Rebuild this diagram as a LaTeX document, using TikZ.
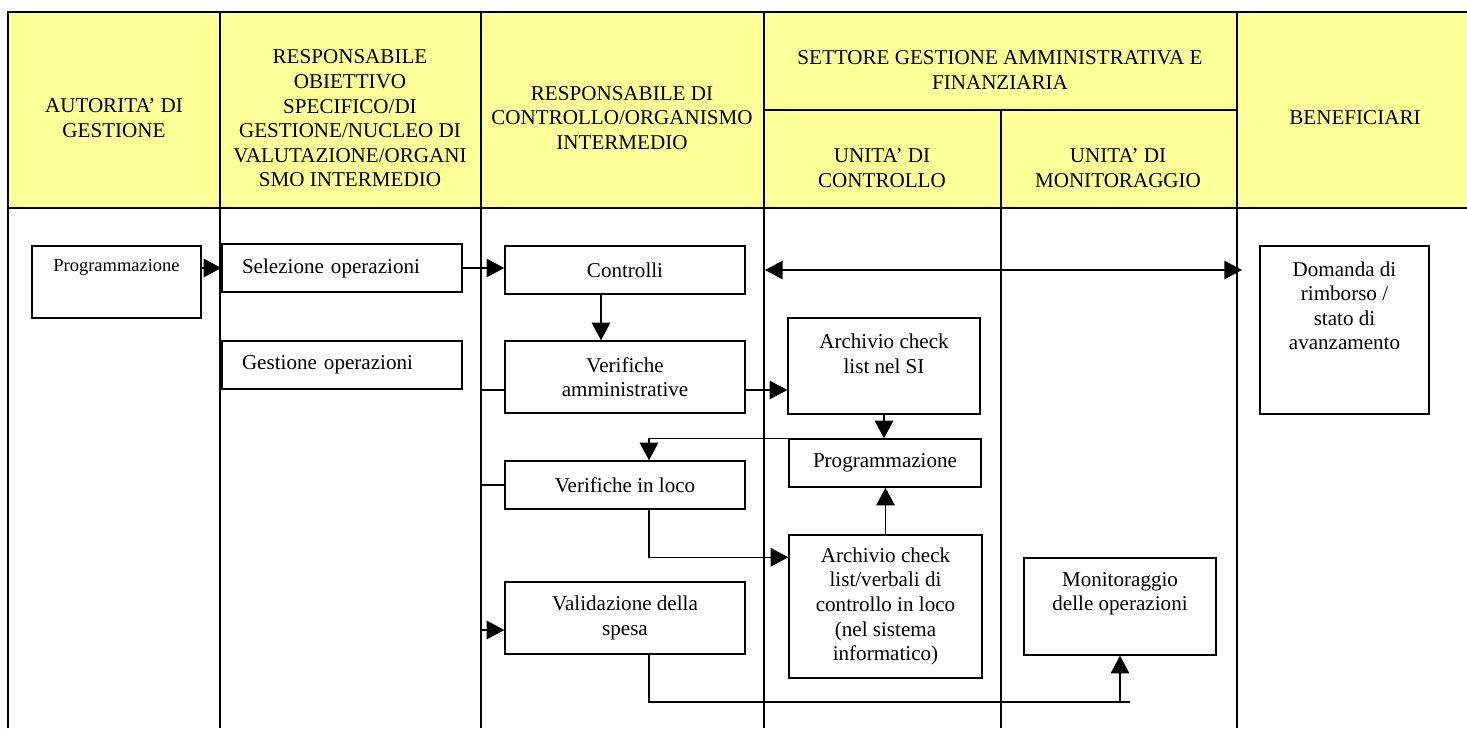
\documentclass[tikz,border=0pt]{standalone}
\usepackage{fontspec}
\setmainfont{Liberation Serif}
\usetikzlibrary{arrows.meta}
\newlength{\upx}
\setlength{\upx}{0.02cm}
\definecolor{headyellow}{RGB}{255,255,153}

\begin{document}
\begin{tikzpicture}[
        x=0.02cm, y=-0.02cm,
        frame/.style={draw,line width=1.2pt},
        head/.style={align=center,font=\fontsize{12}{14}\selectfont},
        stepbox/.style={draw,line width=0.8pt,inner sep=0pt,align=center,
            font=\fontsize{12}{14}\selectfont},
        arrow/.style={-{Triangle[length=10pt,width=10.5pt]},line width=0.8pt},
        twoway/.style={{Triangle[length=10pt,width=10.5pt]}-{Triangle[length=10pt,width=10.5pt]},line width=0.8pt},
        link/.style={line width=0.8pt},
    ]
        \useasboundingbox (0,0) rectangle (1467,728);

        % table
        \fill[headyellow] (8,12) rectangle (1467,208);
        \draw[frame] (8,728) -- (8,12) -- (1467,12);
        \draw[frame] (8,208) -- (1467,208);
        \draw[frame] (764,110) -- (1237,110);
        \foreach \x in {220,481,764,1237}
            \draw[frame] (\x,12) -- (\x,728);
        \draw[frame] (1001,110) -- (1001,728);

        % header
        \node (hag)  [head] at (114,118)   {AUTORITA’ DI\\GESTIONE};
        \node (hro)  [head] at (350,118.5)
            {RESPONSABILE\\OBIETTIVO\\SPECIFICO/DI\\GESTIONE/NUCLEO DI\\VALUTAZIONE/ORGANI\\SMO INTERMEDIO};
        \node (hrc)  [head] at (622,118)
            {RESPONSABILE DI\\CONTROLLO/ORGANISMO\\INTERMEDIO};
        \node (hset) [head] at (1000,70)
            {SETTORE GESTIONE AMMINISTRATIVA E\\FINANZIARIA};
        \node (huc)  [head] at (882,168)   {UNITA’ DI\\CONTROLLO};
        \node (hum)  [head] at (1118,168)  {UNITA’ DI\\MONITORAGGIO};
        \node (hben) [head] at (1355,118)  {BENEFICIARI};

        % boxes
        \node (prog1) [stepbox,minimum width=169\upx,minimum height=72\upx,
            label={[font=\fontsize{10.5}{12}\selectfont,anchor=center,yshift=-22\upx]north:Programmazione}]
            at (116.5,282) {};
        \node (sel) [stepbox,text width=200\upx,align=left,minimum width=240\upx,minimum height=48\upx]
            at (342,268) {Selezione operazioni};
        \node (ges) [stepbox,text width=200\upx,align=left,minimum width=240\upx,minimum height=48\upx]
            at (342,365) {Gestione operazioni};
        \node (ctrl) [stepbox,minimum width=240\upx,minimum height=48\upx]
            at (625,270) {Controlli};
        \node (veram) [stepbox,minimum width=240\upx,minimum height=72\upx]
            at (625,377) {Verifiche\\amministrative};
        \node (verloco) [stepbox,minimum width=240\upx,minimum height=48\upx]
            at (625,485) {Verifiche in loco};
        \node (valid) [stepbox,minimum width=240\upx,minimum height=72\upx]
            at (625,618) {Validazione della\\spesa};
        \node (arsi) [stepbox,minimum width=192\upx,minimum height=96\upx,
            label={[head,anchor=center,yshift=-36.5\upx]north:{Archivio check\\list nel SI}}]
            at (884,366) {};
        \node (prog2) [stepbox,minimum width=192\upx,minimum height=48\upx]
            at (885,463) {Programmazione};
        \node (arver) [stepbox,minimum width=193\upx,minimum height=143\upx]
            at (885.5,606.5)
            {Archivio check\\list/verbali di\\controllo in loco\\(nel sistema\\informatico)};
        \node (mon) [stepbox,minimum width=192\upx,minimum height=97\upx,
            label={[head,anchor=center,yshift=-36.5\upx]north:{Monitoraggio\\delle operazioni}}]
            at (1120,606.5) {};
        \node (dom) [stepbox,minimum width=169\upx,minimum height=168\upx,
            label={[head,anchor=center,yshift=-60.5\upx]north:{Domanda di\\rimborso /\\stato di\\avanzamento}}]
            at (1344.5,330) {};

        \coordinate (lane3) at (481,208);
        \coordinate (twoleft) at (765,270);
        \coordinate (tworight) at (1242,270);
        \coordinate (monjoin) at (1130,702);

        % arrows
        \draw[arrow] (prog1.east |- sel.west) -- (sel.west);
        \draw[arrow] (sel.east) -- (sel.east -| ctrl.west);
        \draw[arrow] ([xshift=-24\upx]ctrl.south) -- ([xshift=-24\upx]veram.north);
        \draw[twoway] (twoleft) -- (tworight);

        \draw[link] ([yshift=-13\upx]veram.west -| lane3) -- ([yshift=-13\upx]veram.west);
        \draw[arrow] ([yshift=-13\upx]veram.east) -- ([yshift=-13\upx]veram.east -| arsi.west);
        \draw[arrow] (arsi.south) -- (arsi.south |- prog2.north);

        \draw[arrow] ([xshift=5\upx]prog2.north west) -| ([xshift=24\upx]verloco.north);
        \draw[link] (verloco.west -| lane3) -- (verloco.west);
        \draw[arrow] ([xshift=24\upx]verloco.south) |- ([yshift=-23\upx]arver.north west);
        \draw[arrow] (arver.north) -- (arver.north |- prog2.south);

        \draw[arrow] ([yshift=-12\upx]valid.west -| lane3) -- ([yshift=-12\upx]valid.west);
        \draw[link] ([xshift=24\upx]valid.south) |- (monjoin);
        \draw[arrow] (mon.south |- monjoin) -- (mon.south);
    \end{tikzpicture}
\end{document}
